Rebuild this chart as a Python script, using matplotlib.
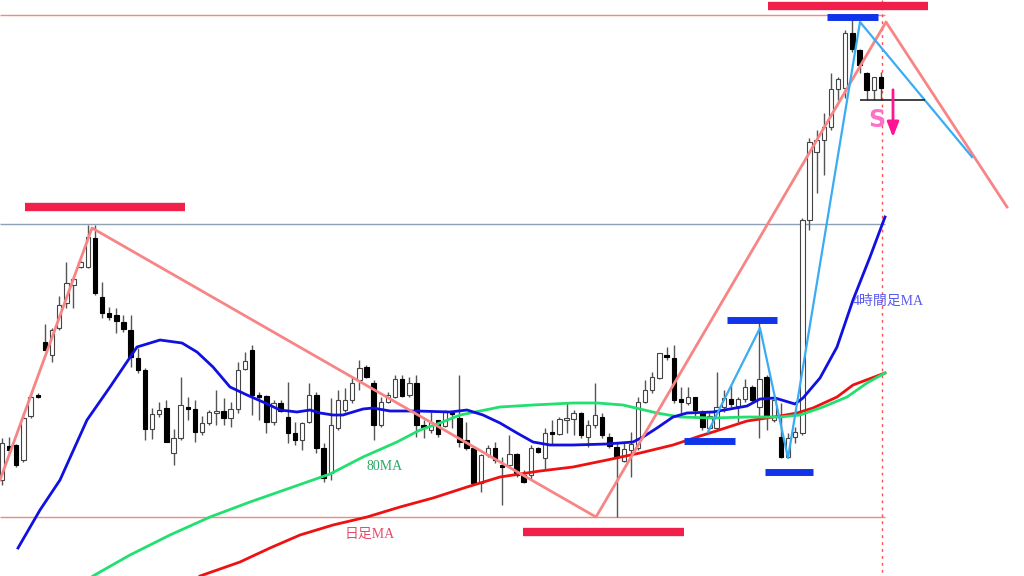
import matplotlib
matplotlib.use('Agg')
import matplotlib.pyplot as plt
import numpy as np

# Candle data in chart units (pixel-like price scale, larger = lower price)
opens = [480, 446, 445, 460, 416, 395, 342, 355, 328, 303, 285, 267, 267, 238, 297, 313,
         315, 322, 330, 358, 370, 429, 414, 408, 453, 438, 407, 409, 432, 423, 413, 411,
         418, 409, 369, 350, 395, 396, 422, 403, 417, 433, 440, 422, 395, 448, 473, 428,
         410, 400, 380, 367, 383, 425, 402, 397, 379, 395, 383, 425, 430, 420, 426, 412,
         418, 440, 448, 483, 455, 448, 465, 465, 454, 475, 475, 448, 458, 432, 434, 420,
         419, 413, 437, 425, 417, 437, 447, 461, 450, 448, 402, 390, 378, 355, 358, 399,
         403, 397, 413, 428, 428, 407, 399, 406, 399, 387, 407, 377, 420, 437, 457, 437,
         433, 220, 152, 140, 127, 89, 88, 33, 50, 73, 90, 77]
highs = [438, 437, 444, 413, 393, 393, 324, 328, 296, 262, 278, 261, 225, 225, 282, 307,
         308, 315, 315, 348, 368, 408, 402, 400, 429, 377, 397, 400, 416, 410, 390, 398,
         402, 362, 352, 345, 392, 395, 400, 400, 382, 422, 422, 383, 392, 443, 398, 390,
         388, 377, 360, 365, 380, 397, 392, 375, 375, 377, 375, 420, 412, 420, 410, 412,
         375, 422, 447, 454, 445, 442, 457, 435, 453, 470, 445, 447, 428, 420, 417, 403,
         410, 412, 420, 383, 413, 433, 442, 443, 432, 397, 380, 372, 353, 347, 345, 387,
         387, 397, 410, 413, 372, 390, 385, 397, 379, 385, 322, 375, 398, 403, 433, 427,
         218, 138, 130, 113, 73, 77, 30, 18, 49, 72, 77, 72]
lows = [485, 453, 467, 462, 418, 398, 350, 362, 330, 308, 308, 268, 268, 295, 318, 320,
        333, 332, 367, 373, 440, 439, 417, 442, 465, 440, 420, 442, 435, 425, 425, 425,
        427, 413, 370, 415, 420, 433, 425, 412, 443, 445, 450, 423, 453, 482, 480, 430,
        412, 403, 390, 378, 440, 427, 403, 398, 397, 397, 437, 438, 433, 437, 427, 428,
        447, 450, 485, 492, 457, 463, 505, 467, 477, 483, 480, 453, 470, 445, 435, 433,
        435, 438, 447, 428, 438, 448, 517, 462, 477, 450, 403, 393, 379, 360, 403, 413,
        405, 418, 430, 430, 430, 412, 407, 422, 402, 402, 438, 430, 422, 458, 458, 443,
        435, 230, 193, 175, 130, 100, 98, 52, 73, 100, 100, 100]
closes = [443, 450, 465, 418, 397, 396, 350, 330, 305, 283, 279, 262, 237, 293, 313, 317,
          321, 329, 357, 370, 429, 414, 410, 442, 438, 405, 408, 432, 423, 412, 411, 418,
          409, 370, 361, 395, 396, 422, 403, 411, 433, 440, 423, 395, 448, 478, 425, 400,
          400, 383, 368, 377, 425, 402, 395, 379, 396, 383, 425, 427, 422, 434, 412, 414,
          442, 448, 483, 455, 448, 460, 467, 454, 475, 482, 448, 452, 433, 434, 419, 418,
          413, 435, 425, 415, 435, 446, 457, 449, 444, 402, 390, 377, 353, 357, 400, 402,
          397, 410, 427, 416, 407, 398, 404, 399, 387, 400, 379, 417, 400, 457, 438, 432,
          220, 142, 140, 127, 89, 79, 33, 49, 65, 90, 77, 88]

# Moving averages (x, level)
ma4h_x = [18, 40, 60, 87, 110, 137, 160, 182, 197, 213, 230, 247, 263, 280, 297, 310, 320,
          333, 343, 363, 373, 390, 417, 450, 467, 483, 500, 517, 533, 550, 573, 607, 633,
          643, 657, 673, 687, 713, 747, 760, 775, 795, 803, 820, 837, 853, 870, 885]
ma4h_y = [548, 510, 480, 420, 387, 347, 340, 343, 352, 367, 387, 395, 402, 410, 412, 410, 413,
          415, 415, 409, 408, 411, 411, 412, 410, 415, 423, 433, 442, 445, 445, 444, 442,
          437, 428, 417, 413, 412, 406, 399, 398, 404, 398, 378, 347, 300, 257, 217]
ma80_x = [93, 130, 170, 210, 250, 290, 330, 363, 397, 420, 440, 460, 500, 533, 573, 597,
          623, 657, 680, 713, 747, 780, 800, 823, 847, 867, 885]
ma80_y = [576, 555, 535, 517, 502, 488, 474, 457, 442, 430, 423, 415, 407, 405, 403, 403,
          405, 413, 417, 418, 417, 417, 415, 407, 397, 383, 373]
daily_x = [200, 240, 270, 300, 333, 367, 400, 433, 467, 500, 540, 573, 607, 640, 673, 700,
           713, 747, 780, 797, 813, 837, 853, 885]
daily_y = [576, 562, 548, 535, 525, 517, 507, 498, 487, 477, 471, 467, 460, 453, 445, 436,
           432, 421, 416, 413, 408, 397, 385, 373]

# Zigzag swings
zig_x = [0, 92, 596, 886, 1007]
zig_y = [480, 228, 517, 22, 207]
wave_x = [708, 760, 788, 860, 972]
wave_y = [432, 328, 458, 22, 157]

# Horizontal levels
RED_BARS = [(25, 185, 207), (768, 928, 6), (523, 684, 532)]
BLUE_BARS = [(827, 878, 17), (727, 777, 320), (684, 735, 441), (765, 813, 472)]

fig = plt.figure(figsize=(10.24, 5.76), dpi=100)
ax = fig.add_axes([0, 0, 1, 1])
ax.set_xlim(0, 1024)
ax.set_ylim(576, 0)
ax.axis('off')

n = len(opens)
xs = 2 + 7.146 * np.arange(n)
o = np.array(opens, float)
c = np.array(closes, float)

# guide lines
ax.hlines(15, 0, 885, color='#f08888', lw=1, zorder=1)
ax.hlines(224, 0, 885, color='#8ea0b4', lw=1, zorder=1)
ax.hlines(517, 0, 885, color='#f08888', lw=1, zorder=1)
ax.vlines(882, 0, 576, color='#ff5050', lw=1, linestyles=(0, (2, 3)), zorder=1)

# candles
ax.vlines(xs, highs, lows, color='#555555', lw=1, zorder=2)
h = c - o
h = np.where(np.abs(h) < 1.5, np.where(h < 0, -1.5, 1.5), h)
up = c < o
ax.bar(xs[up], h[up], bottom=o[up], width=4.4, color='white',
       edgecolor='#444444', linewidth=0.8, zorder=2)
ax.bar(xs[~up], h[~up], bottom=o[~up], width=4.4, color='black',
       edgecolor='black', linewidth=0.8, zorder=2)

# moving averages
ax.plot(daily_x, daily_y, color='#ee1111', lw=2, zorder=3)
ax.plot(ma80_x, ma80_y, color='#22e070', lw=2, zorder=3)
ax.plot(ma4h_x, ma4h_y, color='#1010e0', lw=2, zorder=3)

# swings
ax.plot(zig_x, zig_y, color='#f78585', lw=2, zorder=4)
ax.plot(wave_x, wave_y, color='#3aacf5', lw=1.6, zorder=4)

for x0, x1, y in RED_BARS:
    ax.hlines(y, x0, x1, color='#f0204a', lw=6, zorder=5)
for x0, x1, y in BLUE_BARS:
    ax.hlines(y, x0, x1, color='#1034ea', lw=5, zorder=5)

ax.hlines(100, 860, 925, color='#222222', lw=1.2, zorder=5)
ax.annotate('', xy=(893, 140), xytext=(893, 87),
            arrowprops=dict(arrowstyle='-|>,head_width=0.35,head_length=0.9',
                            color='#ff1493', lw=2), zorder=6)
ax.text(877, 120, 'S', color='#ff70c8', fontsize=17, fontweight='bold',
        ha='center', va='center', family='DejaVu Sans', zorder=6)

fam = ['Liberation Serif', 'Noto Sans CJK JP']
ax.text(385, 466, '80MA', color='#2ca865', fontsize=10, ha='center', va='center', family=fam)
ax.text(370, 534, '日足MA', color='#e84a6a', fontsize=10, ha='center', va='center', family=fam)
ax.text(888, 301, '4時間足MA', color='#5a5aee', fontsize=10, ha='center', va='center', family=fam)

fig.savefig('out.png', dpi=100)
